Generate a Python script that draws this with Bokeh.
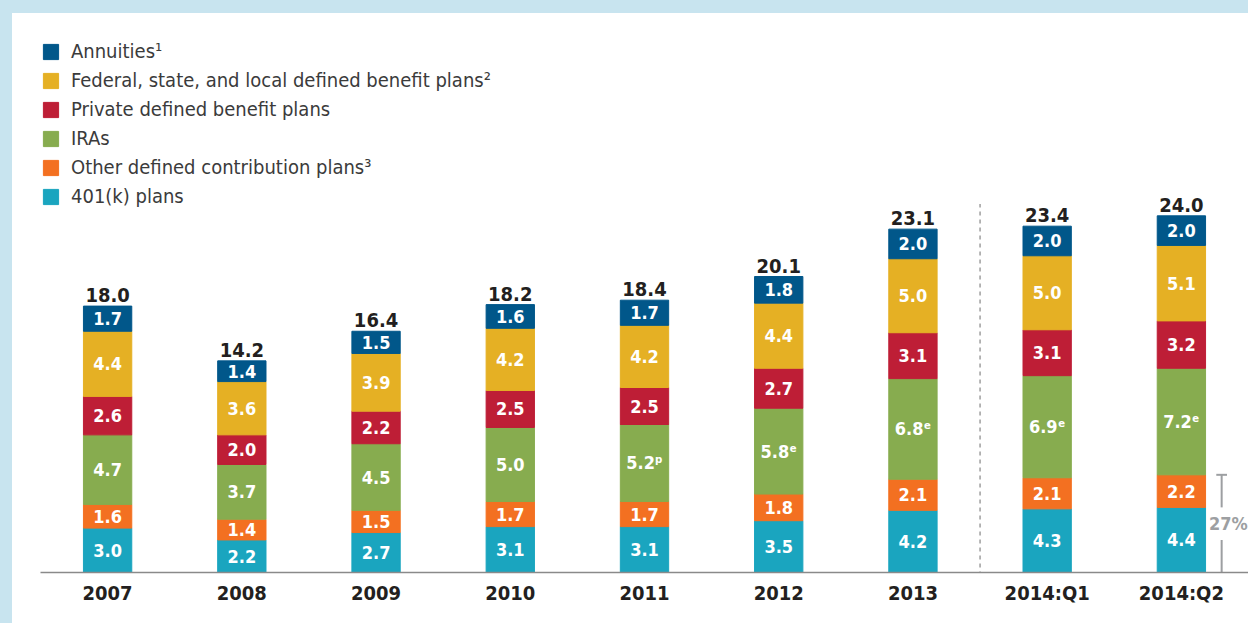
from bokeh.plotting import figure
from bokeh.models import ColumnDataSource, Legend, LegendItem, FactorRange, Range1d
from bokeh.core.properties import value
from bokeh.embed import file_html
from bokeh.resources import INLINE

# ---- data ----
years = ["2007", "2008", "2009", "2010", "2011", "2012", "2013", "2014:Q1", "2014:Q2"]
k401 = [3.0, 2.2, 2.7, 3.1, 3.1, 3.5, 4.2, 4.3, 4.4]
other_dc = [1.6, 1.4, 1.5, 1.7, 1.7, 1.8, 2.1, 2.1, 2.2]
iras = [4.7, 3.7, 4.5, 5.0, 5.2, 5.8, 6.8, 6.9, 7.2]
private_db = [2.6, 2.0, 2.2, 2.5, 2.5, 2.7, 3.1, 3.1, 3.2]
gov_db = [4.4, 3.6, 3.9, 4.2, 4.2, 4.4, 5.0, 5.0, 5.1]
annuities = [1.7, 1.4, 1.5, 1.6, 1.7, 1.8, 2.0, 2.0, 2.0]
totals = [18.0, 14.2, 16.4, 18.2, 18.4, 20.1, 23.1, 23.4, 24.0]
ira_notes = ["", "", "", "", "ᵖ", "ᵉ", "ᵉ", "ᵉ", "ᵉ"]
share_label = "27%"

series_keys = ["k401", "other_dc", "iras", "private_db", "gov_db", "annuities"]
series_vals = [k401, other_dc, iras, private_db, gov_db, annuities]
series_names = ["401(k) plans", "Other defined contribution plans³", "IRAs",
                "Private defined benefit plans",
                "Federal, state, and local defined benefit plans²", "Annuities¹"]
colors = ["#1AA5BF", "#F37021", "#87AC4F", "#BE1E36", "#E5B024", "#01578A"]

FONT_NAME = "DejaVu Sans Condensed"
FONT = value(FONT_NAME)
DARK = "#231F20"
GRAY = "#9D9FA2"

src = ColumnDataSource(dict(year=years, **{k: v for k, v in zip(series_keys, series_vals)}))

PX_PER_UNIT = 14.8
W, H = 1248, 623
BT, BL = 13, 12          # light-blue page frame (top / left)
MB_LEFT, MB_RIGHT, MB_BOTTOM = 28, BL, 51 + BT
frame_h = H - MB_BOTTOM

p = figure(x_range=FactorRange(*years), y_range=Range1d(0, frame_h / PX_PER_UNIT),
           width=W, height=H, output_backend="svg", toolbar_location=None,
           y_axis_location=None, min_border_left=MB_LEFT, min_border_right=MB_RIGHT,
           min_border_top=0, min_border_bottom=MB_BOTTOM)
p.styles = {"border-top": f"{BT}px solid #C8E4EF", "border-left": f"{BL}px solid #C8E4EF"}

renderers = p.vbar_stack(series_keys, x="year", width=0.36, color=colors, source=src)

# segment labels
lx, ly, lt = [], [], []
tops = [0.0] * len(years)
for key, vals in zip(series_keys, series_vals):
    for i, v in enumerate(vals):
        lx.append(years[i])
        ly.append(tops[i] + v / 2)
        note = ira_notes[i] if key == "iras" else ""
        lt.append(f"{v:.1f}{note}")
        tops[i] += v
p.text(x=lx, y=ly, text=lt, text_align="center", text_baseline="middle",
       text_color="white", text_font=FONT, text_font_style="bold", text_font_size="18px")

# totals
p.text(x=years, y=tops, text=[f"{t:.1f}" for t in totals], text_align="center",
       text_baseline="bottom", y_offset=-4, text_color=DARK, text_font=FONT,
       text_font_style="bold", text_font_size="20px")

# dashed separator between annual and quarterly data
p.segment(x0=[("2013", 0.5)], y0=[-0.2], x1=[("2014:Q1", -0.5)], y1=[24.9],
          line_color="#8F8F8F", line_width=1.3, line_dash="4 4")

# 27% bracket on last bar
q2 = years[-1]
low = k401[-1] + other_dc[-1]
mid = low / 2
p.segment(x0=[(q2, 0.3), (q2, 0.3), (q2, 0.26)], y0=[low, mid - 1.1, low],
          x1=[(q2, 0.3), (q2, 0.3), (q2, 0.34)], y1=[mid + 1.1, 0, low],
          line_color=GRAY, line_width=2)
p.text(x=[(q2, 0.35)], y=[mid], text=[share_label], text_align="center",
       text_baseline="middle", text_color=GRAY, text_font=FONT,
       text_font_style="bold", text_font_size="18px")

# legend
items = [LegendItem(label=n, renderers=[r]) for n, r in reversed(list(zip(series_names, renderers)))]
legend = Legend(items=items, location=(1, frame_h - 195), orientation="vertical",
                label_text_font=FONT_NAME, label_text_font_size="20px", label_text_color="#3B3B3B",
                glyph_width=19, glyph_height=19, label_height=22, spacing=5,
                padding=0, margin=0, label_standoff=11,
                background_fill_alpha=0, border_line_color=None)
p.add_layout(legend)

# axes / styling
p.xaxis.axis_line_color = "#8A8A8A"
p.xaxis.axis_line_width = 1.5
p.xaxis.major_tick_line_color = None
p.xaxis.minor_tick_line_color = None
p.xaxis.major_label_text_font = FONT_NAME
p.xaxis.major_label_text_font_size = "20px"
p.xaxis.major_label_text_font_style = "bold"
p.xaxis.major_label_text_color = DARK
p.xaxis.major_label_standoff = 2
p.xgrid.grid_line_color = None
p.ygrid.grid_line_color = None
p.outline_line_color = None
p.x_range.range_padding = 0

open("out.html", "w").write(file_html(p, INLINE))
